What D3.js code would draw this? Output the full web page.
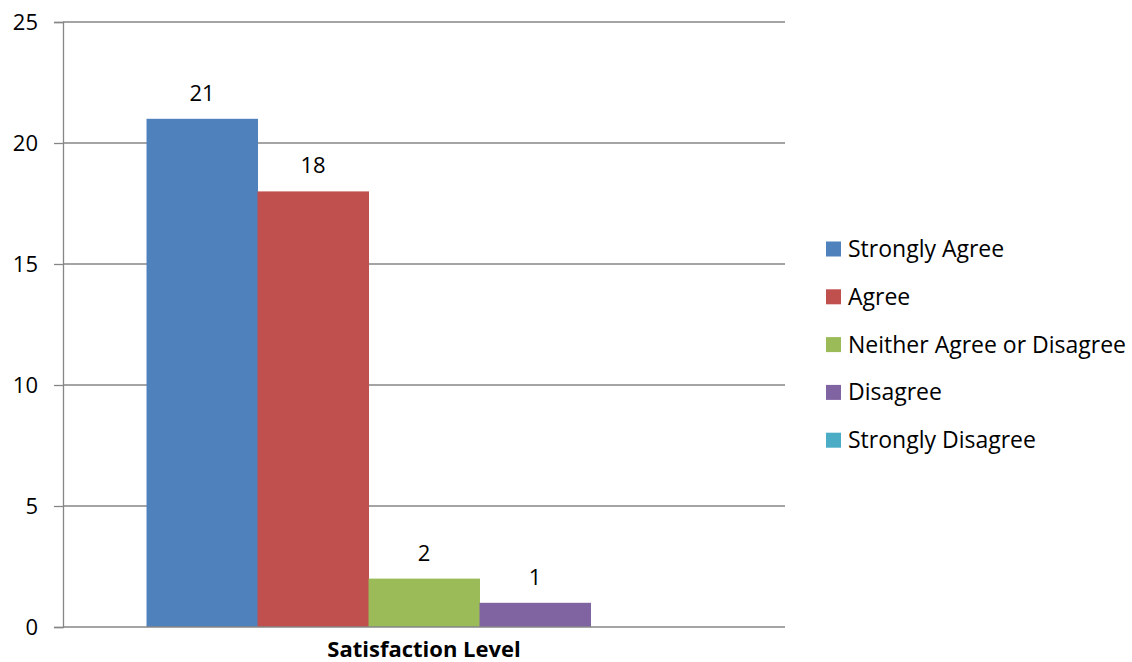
<!DOCTYPE html>
<html>
<head>
<meta charset="utf-8">
<script src="https://cdn.jsdelivr.net/npm/d3@7"></script>
<style>
  body { margin: 0; background: #fff; }
  text { font-family: "Open Sans", "Noto Sans", sans-serif; fill: #000; }
</style>
</head>
<body>
<div id="chart"></div>
<script>
// data
var categories = ["Satisfaction Level"];
var seriesNames = ["Strongly Agree", "Agree", "Neither Agree or Disagree", "Disagree", "Strongly Disagree"];
var seriesValues = [21, 18, 2, 1, 0];
var seriesColors = ["#4F81BD", "#C0504D", "#9BBB59", "#8064A2", "#4BACC6"];
var yTicks = [0, 5, 10, 15, 20, 25];

var width = 1132, height = 662;
var margin = {top: 22, right: 347, bottom: 35, left: 63};
var plotW = width - margin.left - margin.right,
    plotH = height - margin.top - margin.bottom;

var svg = d3.select("#chart")
  .append("svg")
    .attr("width", width)
    .attr("height", height);

var g = svg.append("g")
  .attr("transform", "translate(" + margin.left + "," + margin.top + ")");

// scales
var x0 = d3.scaleBand()
  .domain(categories)
  .range([0, plotW])
  .paddingInner(0)
  .paddingOuter(0.1505);

var x1 = d3.scaleBand()
  .domain(seriesNames)
  .range([0, x0.bandwidth()]);

var y = d3.scaleLinear()
  .domain([0, 25])
  .range([plotH, 0]);

// gridlines
g.selectAll(".grid")
  .data(yTicks.filter(function(d) { return d > 0; }))
  .enter()
  .append("line")
    .attr("x1", 0)
    .attr("x2", plotW)
    .attr("y1", function(d) { return y(d); })
    .attr("y2", function(d) { return y(d); })
    .style("stroke", "#868686")
    .style("stroke-width", 1.3);

// y axis
var yAxis = g.append("g")
  .call(d3.axisLeft(y).tickValues(yTicks).tickSize(9).tickPadding(16));
yAxis.select(".domain").style("stroke", "#868686").style("stroke-width", 1.3);
yAxis.selectAll(".tick line").style("stroke", "#868686").style("stroke-width", 1.3);
yAxis.selectAll(".tick text")
  .style("font-size", "22px")
  .style("font-family", "'Open Sans', sans-serif")
  .attr("fill", "#000");

// bars
var bars = g.selectAll(".bar")
  .data(seriesNames.map(function(s, i) { return {name: s, value: seriesValues[i], color: seriesColors[i]}; }))
  .enter();

bars.append("rect")
    .attr("x", function(d) { return x0(categories[0]) + x1(d.name); })
    .attr("y", function(d) { return y(d.value); })
    .attr("width", x1.bandwidth() + 0.5)
    .attr("height", function(d) { return plotH - y(d.value); })
    .style("fill", function(d) { return d.color; });

bars.filter(function(d) { return d.value > 0; })
  .append("text")
    .attr("x", function(d) { return x0(categories[0]) + x1(d.name) + x1.bandwidth() / 2; })
    .attr("y", function(d) { return y(d.value) - 18; })
    .attr("text-anchor", "middle")
    .style("font-size", "22px")
    .text(function(d) { return d.value; });

// x axis baseline
g.append("line")
  .attr("x1", 0)
  .attr("x2", plotW)
  .attr("y1", plotH)
  .attr("y2", plotH)
  .style("stroke", "#868686")
  .style("stroke-width", 1.3);

// x category label
g.append("text")
  .attr("x", x0(categories[0]) + x0.bandwidth() / 2)
  .attr("y", plotH + 30)
  .attr("text-anchor", "middle")
  .style("font-size", "22px")
  .style("font-weight", "bold")
  .text(categories[0]);

// legend
var legend = svg.append("g")
  .attr("transform", "translate(826,249)");

var item = legend.selectAll(".item")
  .data(seriesNames)
  .enter()
  .append("g")
    .attr("transform", function(d, i) { return "translate(0," + (i * 47.8) + ")"; });

item.append("rect")
  .attr("x", 0)
  .attr("y", -7.5)
  .attr("width", 15)
  .attr("height", 15)
  .style("fill", function(d, i) { return seriesColors[i]; });

item.append("text")
  .attr("x", 22)
  .attr("y", 0)
  .attr("dy", "0.35em")
  .style("font-size", "23px")
  .text(function(d) { return d; });
</script>
</body>
</html>
